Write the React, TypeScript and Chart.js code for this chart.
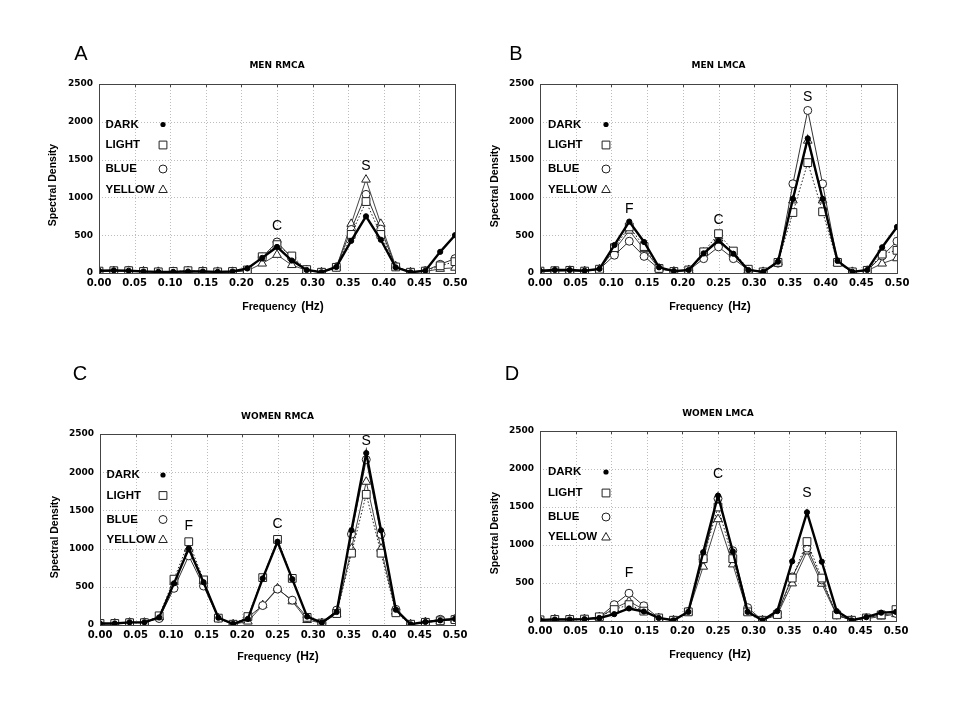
import React, { useEffect, useRef } from 'react';
import { Chart, registerables } from 'chart.js';

Chart.register(...registerables);

// ---------------- data ----------------
const FREQ = [
  0, 0.0208, 0.0417, 0.0625, 0.0833, 0.1042, 0.125, 0.1458, 0.1667, 0.1875, 0.2083, 0.2292, 0.25,
  0.2708, 0.2917, 0.3125, 0.3333, 0.3542, 0.375, 0.3958, 0.4167, 0.4375, 0.4583, 0.4792, 0.5,
];
const X_TICKS = [0, 0.05, 0.1, 0.15, 0.2, 0.25, 0.3, 0.35, 0.4, 0.45, 0.5];
const X_TICK_LABELS = ['0.00', '0.05', '0.10', '0.15', '0.20', '0.25', '0.30', '0.35', '0.40', '0.45', '0.50'];
const Y_TICKS = [0, 500, 1000, 1500, 2000, 2500];
const Y_TICK_LABELS = ['0', '500', '1000', '1500', '2000', '2500'];
const SERIES_NAMES = ['DARK', 'LIGHT', 'BLUE', 'YELLOW'];

// A - MEN RMCA
const A_DARK = [30, 35, 30, 20, 15, 15, 20, 20, 15, 20, 60, 200, 345, 165, 40, 10, 80, 425, 750, 440, 75, 10, 30, 280, 500];
const A_LIGHT = [25, 30, 30, 20, 15, 20, 30, 20, 15, 20, 40, 215, 375, 225, 45, 10, 75, 510, 945, 510, 80, 10, 25, 95, 150];
const A_BLUE = [20, 25, 35, 25, 15, 20, 25, 20, 15, 15, 35, 210, 410, 200, 40, 10, 80, 575, 1040, 580, 85, 10, 30, 115, 190];
const A_YELLOW = [20, 25, 25, 20, 15, 15, 25, 20, 15, 15, 30, 125, 240, 105, 35, 10, 70, 650, 1235, 650, 90, 10, 20, 55, 70];

// B - MEN LMCA
const B_DARK = [30, 40, 40, 30, 55, 370, 680, 410, 75, 25, 40, 260, 430, 255, 40, 15, 150, 980, 1780, 980, 160, 15, 40, 340, 610];
const B_LIGHT = [25, 30, 35, 25, 50, 335, 610, 350, 60, 20, 40, 280, 520, 290, 50, 15, 140, 800, 1460, 810, 140, 15, 35, 250, 300];
const B_BLUE = [20, 30, 30, 25, 50, 235, 420, 220, 55, 20, 35, 190, 345, 190, 40, 15, 130, 1180, 2150, 1180, 150, 15, 30, 225, 420];
const B_YELLOW = [20, 25, 30, 25, 50, 305, 560, 315, 60, 20, 40, 270, 455, 245, 40, 15, 140, 960, 1750, 960, 130, 15, 30, 125, 195];

// C - WOMEN RMCA
const C_DARK = [20, 20, 35, 35, 100, 545, 1000, 560, 95, 15, 80, 610, 1090, 600, 110, 30, 170, 1240, 2250, 1240, 200, 10, 40, 60, 80];
const C_LIGHT = [20, 20, 30, 30, 120, 600, 1090, 590, 90, 10, 110, 620, 1120, 610, 100, 25, 150, 940, 1710, 940, 160, 10, 35, 55, 70];
const C_BLUE = [15, 20, 35, 35, 85, 480, 905, 510, 90, 10, 100, 255, 470, 325, 100, 25, 195, 1190, 2165, 1185, 205, 10, 40, 75, 80];
const C_YELLOW = [15, 20, 30, 30, 100, 565, 1000, 575, 85, 10, 45, 260, 480, 310, 65, 25, 145, 1000, 1875, 1000, 175, 10, 35, 55, 70];

// D - WOMEN LMCA
const D_DARK = [15, 20, 20, 25, 40, 90, 165, 125, 40, 10, 120, 905, 1650, 915, 120, 10, 130, 785, 1430, 780, 130, 10, 50, 110, 120];
const D_LIGHT = [15, 20, 20, 25, 55, 150, 215, 130, 40, 10, 120, 820, 1500, 820, 120, 10, 85, 565, 1045, 565, 80, 10, 40, 80, 150];
const D_BLUE = [15, 25, 25, 25, 50, 215, 365, 200, 40, 10, 125, 810, 1610, 925, 175, 10, 100, 580, 960, 540, 80, 10, 40, 80, 100];
const D_YELLOW = [15, 20, 20, 25, 50, 165, 260, 150, 35, 10, 115, 715, 1340, 745, 115, 10, 80, 495, 915, 490, 75, 10, 30, 60, 90];

// peak annotations (label, index into FREQ)
const A_PEAKS: [string, number][] = [['C', 12], ['S', 18]];
const B_PEAKS: [string, number][] = [['F', 6], ['C', 12], ['S', 18]];
const C_PEAKS: [string, number][] = [['F', 6], ['C', 12], ['S', 18]];
const D_PEAKS: [string, number][] = [['F', 6], ['C', 12], ['S', 18]];

// ---------------- layout ----------------
type Panel = {
  letter: string;
  title: string;
  series: number[][];
  peaks: [string, number][];
  peakGap: number[];
  ox: number;
  oy: number;
  pad: { left: number; top: number; right: number; bottom: number };
  letterPos: [number, number];
  titleDy: number;
  yTitlePos: [number, number];
  xTitlePos: [number, number];
  legTextDx: number;
  legMarkDx: number;
  legDy: number[];
};

const PANELS: Panel[] = [
  {
    letter: 'A', title: 'MEN RMCA', series: [A_DARK, A_LIGHT, A_BLUE, A_YELLOW], peaks: A_PEAKS, peakGap: [16, 13],
    ox: 0, oy: 0, pad: { left: 59, top: 84, right: 25, bottom: 67 },
    letterPos: [81, 54], titleDy: -18, yTitlePos: [53, 185], xTitlePos: [283, 307],
    legTextDx: 6.5, legMarkDx: 64, legDy: [40.5, 61, 85, 105.5],
  },
  {
    letter: 'B', title: 'MEN LMCA', series: [B_DARK, B_LIGHT, B_BLUE, B_YELLOW], peaks: B_PEAKS, peakGap: [12, 13.5, 13],
    ox: 480, oy: 0, pad: { left: 20, top: 84, right: 63, bottom: 67 },
    letterPos: [36, 54], titleDy: -18, yTitlePos: [15, 186], xTitlePos: [230, 307],
    legTextDx: 8, legMarkDx: 66, legDy: [40.5, 61, 85, 105.5],
  },
  {
    letter: 'C', title: 'WOMEN RMCA', series: [C_DARK, C_LIGHT, C_BLUE, C_YELLOW], peaks: C_PEAKS, peakGap: [16, 15, 12],
    ox: 0, oy: 360, pad: { left: 60, top: 74, right: 25, bottom: 75 },
    letterPos: [80, 14], titleDy: -17, yTitlePos: [55, 177], xTitlePos: [278, 297],
    legTextDx: 6.5, legMarkDx: 63, legDy: [41, 61.5, 85.5, 105.5],
  },
  {
    letter: 'D', title: 'WOMEN LMCA', series: [D_DARK, D_LIGHT, D_BLUE, D_YELLOW], peaks: D_PEAKS, peakGap: [20, 21, 19],
    ox: 480, oy: 360, pad: { left: 20, top: 71, right: 64, bottom: 79 },
    letterPos: [32, 14], titleDy: -17, yTitlePos: [15, 173], xTitlePos: [230, 295],
    legTextDx: 8, legMarkDx: 66, legDy: [41, 62, 86, 106],
  },
];

const SANS = "'Liberation Sans', Arial, sans-serif";
const DEJA = "'DejaVu Sans', sans-serif";

const STYLES = [
  { borderColor: '#000', borderWidth: 2.4, borderDash: [] as number[], pointStyle: 'circle', pointRadius: 2.6, pointBackgroundColor: '#000', pointBorderColor: '#000' },
  { borderColor: '#222', borderWidth: 1, borderDash: [1.5, 2], pointStyle: 'rect', pointRadius: 5.5, pointBackgroundColor: '#fff', pointBorderColor: '#222' },
  { borderColor: '#333', borderWidth: 1, borderDash: [] as number[], pointStyle: 'circle', pointRadius: 4, pointBackgroundColor: '#fff', pointBorderColor: '#222' },
  { borderColor: '#444', borderWidth: 1, borderDash: [] as number[], pointStyle: 'triangle', pointRadius: 5, pointBackgroundColor: '#fff', pointBorderColor: '#222' },
];

function drawMarker(ctx: CanvasRenderingContext2D, kind: number, x: number, y: number) {
  ctx.save();
  ctx.lineWidth = 1;
  ctx.strokeStyle = '#222';
  ctx.setLineDash([]);
  ctx.beginPath();
  if (kind === 0) {
    ctx.fillStyle = '#000';
    ctx.arc(x, y, 2.6, 0, Math.PI * 2);
    ctx.fill();
  } else if (kind === 1) {
    ctx.fillStyle = '#fff';
    ctx.rect(x - 3.9, y - 3.9, 7.8, 7.8);
    ctx.fill();
    ctx.stroke();
  } else if (kind === 2) {
    ctx.fillStyle = '#fff';
    ctx.arc(x, y, 4, 0, Math.PI * 2);
    ctx.fill();
    ctx.stroke();
  } else {
    ctx.fillStyle = '#fff';
    ctx.moveTo(x, y - 4.5);
    ctx.lineTo(x + 4.3, y + 3);
    ctx.lineTo(x - 4.3, y + 3);
    ctx.closePath();
    ctx.fill();
    ctx.stroke();
  }
  ctx.restore();
}

function makePlugin(p: Panel) {
  return {
    id: 'deco' + p.letter,
    beforeDatasetsDraw(chart: any) {
      const { ctx, chartArea: a, scales } = chart;
      const x = scales.x;
      const y = scales.y;
      ctx.save();
      ctx.strokeStyle = '#bdbdbd';
      ctx.lineWidth = 1;
      ctx.setLineDash([1, 2]);
      X_TICKS.forEach((v) => {
        const px = Math.round(x.getPixelForValue(v)) + 0.5;
        ctx.beginPath();
        ctx.moveTo(px, a.top);
        ctx.lineTo(px, a.bottom);
        ctx.stroke();
      });
      Y_TICKS.forEach((v) => {
        const py = Math.round(y.getPixelForValue(v)) + 0.5;
        ctx.beginPath();
        ctx.moveTo(a.left, py);
        ctx.lineTo(a.right, py);
        ctx.stroke();
      });
      ctx.restore();
    },
    afterDraw(chart: any) {
      const { ctx, chartArea: a, scales } = chart;
      const x = scales.x;
      const y = scales.y;
      ctx.save();
      // frame
      ctx.strokeStyle = '#444';
      ctx.lineWidth = 1;
      ctx.setLineDash([]);
      ctx.strokeRect(Math.round(a.left) + 0.5, Math.round(a.top) + 0.5, Math.round(a.right - a.left), Math.round(a.bottom - a.top));
      // top inner tick marks
      X_TICKS.forEach((v) => {
        const px = Math.round(x.getPixelForValue(v)) + 0.5;
        ctx.beginPath();
        ctx.moveTo(px, a.top);
        ctx.lineTo(px, a.top + 3);
        ctx.stroke();
      });
      // panel letter
      ctx.fillStyle = '#000';
      ctx.textAlign = 'center';
      ctx.textBaseline = 'middle';
      ctx.font = `20px ${SANS}`;
      ctx.fillText(p.letter, p.letterPos[0], p.letterPos[1]);
      // title
      ctx.font = `bold 9px ${DEJA}`;
      ctx.fillText(p.title, (a.left + a.right) / 2, a.top + p.titleDy);
      // y title
      ctx.save();
      ctx.translate(p.yTitlePos[0], p.yTitlePos[1]);
      ctx.rotate(-Math.PI / 2);
      ctx.font = `bold 10.5px ${SANS}`;
      ctx.fillText('Spectral Density', 0, 0);
      ctx.restore();
      // x title
      ctx.font = `bold 10.7px ${SANS}`;
      const w1 = ctx.measureText('Frequency').width;
      ctx.font = `bold 12px ${SANS}`;
      const w2 = ctx.measureText('(Hz)').width;
      const gap = 5;
      const sx = p.xTitlePos[0] - (w1 + gap + w2) / 2;
      ctx.textAlign = 'left';
      ctx.font = `bold 10.7px ${SANS}`;
      ctx.fillText('Frequency', sx, p.xTitlePos[1]);
      ctx.font = `bold 12px ${SANS}`;
      ctx.fillText('(Hz)', sx + w1 + gap, p.xTitlePos[1] - 0.5);
      // legend
      ctx.font = `bold 11.5px ${SANS}`;
      SERIES_NAMES.forEach((name, i) => {
        const ly = a.top + p.legDy[i];
        ctx.fillStyle = '#000';
        ctx.textAlign = 'left';
        ctx.fillText(name, a.left + p.legTextDx, ly);
        drawMarker(ctx, i, a.left + p.legMarkDx, ly);
      });
      // peak labels
      ctx.font = `14px ${SANS}`;
      ctx.textAlign = 'center';
      ctx.fillStyle = '#000';
      p.peaks.forEach(([label, idx], k) => {
        const top = Math.max(...p.series.map((s) => s[idx]));
        const px = x.getPixelForValue(FREQ[idx]);
        const py = y.getPixelForValue(top);
        ctx.fillText(label, px, py - p.peakGap[k]);
      });
      ctx.restore();
    },
  };
}

function PanelChart({ p }: { p: Panel }) {
  const ref = useRef<HTMLCanvasElement | null>(null);
  useEffect(() => {
    if (!ref.current) return;
    const datasets = p.series.map((vals, si) => ({
      label: SERIES_NAMES[si],
      data: vals.map((v, i) => ({ x: FREQ[i], y: v })),
      ...STYLES[si],
      pointBorderWidth: 1,
      pointHoverRadius: STYLES[si].pointRadius,
      tension: 0,
      fill: false,
    }));
    const chart = new Chart(ref.current, {
      type: 'line',
      data: { datasets: datasets as any },
      options: {
        animation: false,
        responsive: false,
        events: [],
        layout: { padding: p.pad },
        plugins: { legend: { display: false }, title: { display: false }, tooltip: { enabled: false } },
        scales: {
          x: {
            type: 'linear',
            min: 0,
            max: 0.5,
            afterBuildTicks: (scale: any) => {
              scale.ticks = X_TICKS.map((v) => ({ value: v }));
            },
            afterFit: (scale: any) => {
              scale.height = 20;
            },
            grid: { display: false, drawTicks: false },
            border: { display: false },
            ticks: {
              autoSkip: false,
              maxRotation: 0,
              padding: 4,
              color: '#000',
              font: { family: DEJA, size: 10, weight: 'bold' },
              callback: (_v: any, i: number) => X_TICK_LABELS[i],
            },
          },
          y: {
            type: 'linear',
            min: 0,
            max: 2500,
            afterBuildTicks: (scale: any) => {
              scale.ticks = Y_TICKS.map((v) => ({ value: v }));
            },
            afterFit: (scale: any) => {
              scale.width = 40;
            },
            grid: { display: false, drawTicks: false },
            border: { display: false },
            ticks: {
              padding: 6,
              color: '#000',
              font: { family: DEJA, size: 9, weight: 'bold' },
              callback: (_v: any, i: number) => Y_TICK_LABELS[i],
            },
          },
        },
      },
      plugins: [makePlugin(p)],
    } as any);
    return () => chart.destroy();
  }, [p]);
  return (
    <canvas
      ref={ref}
      width={480}
      height={360}
      style={{ position: 'absolute', left: p.ox, top: p.oy, width: 480, height: 360 }}
    />
  );
}

export default function App() {
  return (
    <div style={{ position: 'absolute', left: 0, top: 0, width: 960, height: 720, background: '#fff', overflow: 'hidden' }}>
      {PANELS.map((p) => (
        <PanelChart key={p.letter} p={p} />
      ))}
    </div>
  );
}
